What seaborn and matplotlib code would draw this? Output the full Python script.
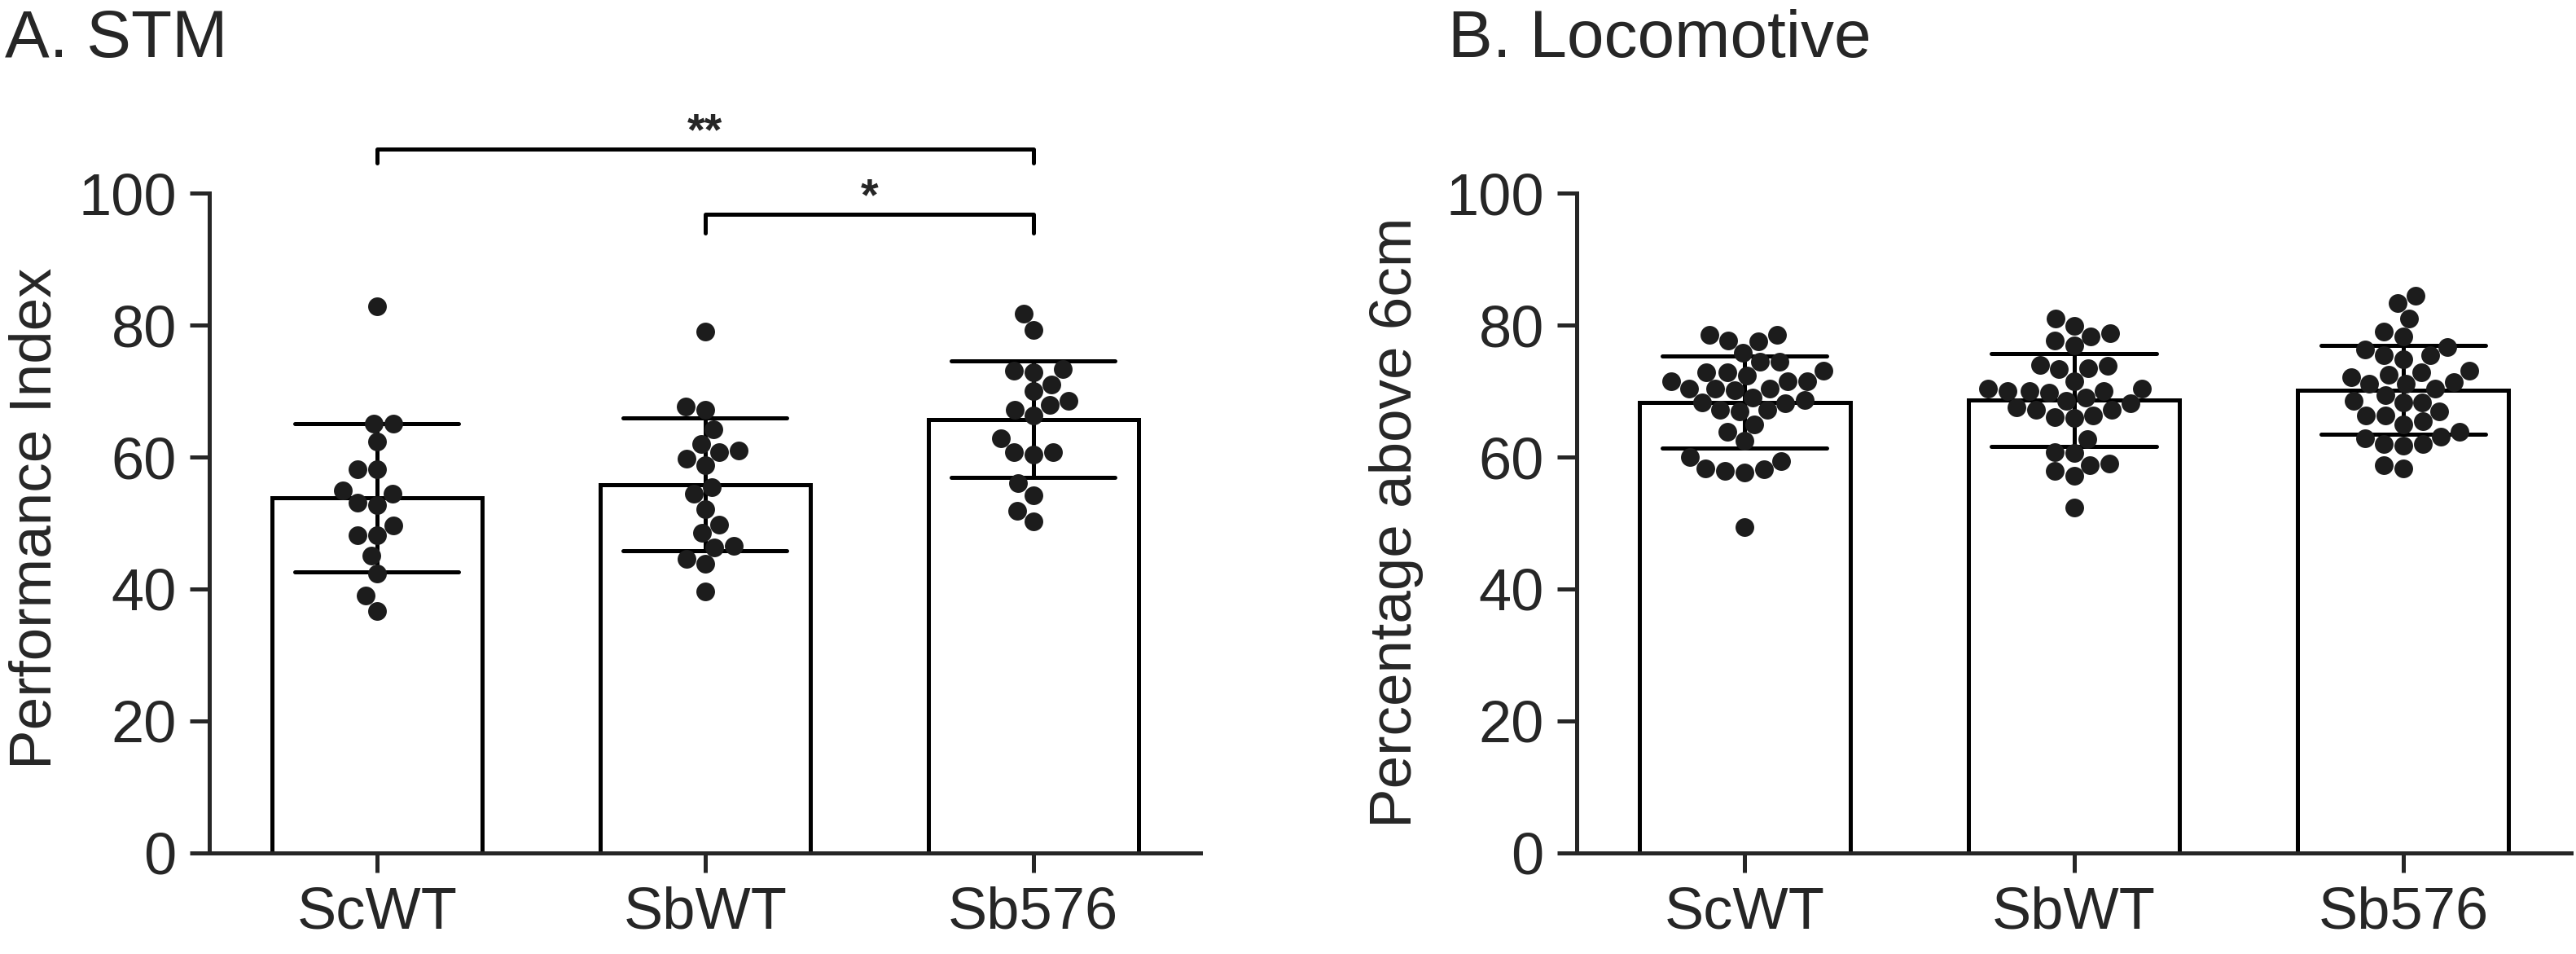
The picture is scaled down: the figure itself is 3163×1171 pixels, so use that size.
import numpy as np
import pandas as pd
import seaborn as sns
import matplotlib.pyplot as plt

sns.set_style('ticks')
plt.rcParams['font.family'] = ['Liberation Sans', 'DejaVu Sans']

groups = ['ScWT', 'SbWT', 'Sb576']

# A. STM - performance index per fly group
scwt_stm = [82.8, 65.1, 65.1, 62.3, 58.1, 58.1, 55.0, 54.4, 53.1, 52.7, 49.6,
            48.1, 48.1, 45.0, 42.3, 39.0, 36.7]
sbwt_stm = [79.0, 67.7, 67.1, 64.2, 62.0, 61.0, 60.8, 59.8, 58.8, 55.4, 54.4,
            52.1, 49.8, 48.5, 46.5, 46.3, 44.6, 43.8, 39.6]
sb576_stm = [81.7, 79.2, 73.3, 73.1, 72.9, 71.0, 70.0, 68.5, 67.9, 67.1, 66.3,
             62.9, 60.8, 60.8, 60.4, 56.0, 54.2, 51.9, 50.2]

# B. Locomotive - percentage above 6cm
scwt_loc = [71.5, 78.5, 74.4, 72.9, 71.5, 70.1, 68.7, 59.4, 77.7, 73.1, 70.4,
            67.1, 63.8, 57.9, 75.8, 72.3, 66.9, 65.0, 62.5, 58.3, 49.4, 77.5,
            74.4, 71.5, 69.0, 67.1, 60.0, 57.7, 78.5, 72.9, 70.4, 68.1, 58.1,
            70.4, 68.3]
sbwt_loc = [70.0, 70.0, 67.1, 79.9, 77.7, 73.4, 70.4, 66.1, 60.6, 78.8, 73.8,
            70.4, 69.0, 66.3, 62.7, 60.8, 57.9, 52.3, 81.0, 76.9, 73.3, 69.8,
            67.5, 59.0, 57.1, 78.3, 74.0, 71.5, 68.1, 65.9, 58.8, 70.0, 67.2,
            68.5]
sb576_loc = [71.1, 66.9, 63.1, 76.7, 74.8, 72.9, 71.1, 69.4, 65.0, 62.0, 83.3,
             81.0, 78.3, 76.3, 72.5, 68.5, 65.4, 62.9, 58.3, 84.4, 79.0, 75.4,
             73.1, 70.4, 68.3, 66.3, 61.7, 58.8, 75.4, 72.1, 66.3, 62.0, 71.3,
             68.3, 63.8]

def make_df(a, b, c):
    return pd.DataFrame({
        'group': ['ScWT'] * len(a) + ['SbWT'] * len(b) + ['Sb576'] * len(c),
        'value': a + b + c,
    })

stm = make_df(scwt_stm, sbwt_stm, sb576_stm)
loc = make_df(scwt_loc, sbwt_loc, sb576_loc)

fig = plt.figure(figsize=(31.63, 11.71), dpi=100)
ax1 = fig.add_axes([0.0813, 0.1059, 0.3848, 0.6917])
ax2 = fig.add_axes([0.6121, 0.1059, 0.386, 0.6917])

lw = 3.6
dot = '#1c1c1c'

for ax, df in [(ax1, stm), (ax2, loc)]:
    sns.barplot(data=df, x='group', y='value', order=groups, errorbar='sd',
                color='white', edgecolor='black', linewidth=lw, width=0.64,
                capsize=0.5, err_kws={'color': 'black', 'linewidth': lw}, ax=ax)
    sns.swarmplot(data=df, x='group', y='value', order=groups, color=dot,
                  size=16.5, ax=ax)
    ax.set_xlim(-0.51, 2.51)
    ax.set_ylim(0, 100)
    ax.set_yticks([0, 20, 40, 60, 80, 100])
    ax.set_xlabel('')
    ax.set_ylabel('')
    sns.despine(ax=ax)
    for s in ['left', 'bottom']:
        ax.spines[s].set_linewidth(lw)
    ax.tick_params(labelsize=52, length=17, width=lw, pad=12)

# significance brackets
ax1.plot([0, 0, 2, 2], [104.6, 106.7, 106.7, 104.6], color='black', lw=lw,
         clip_on=False, solid_joinstyle='round')
ax1.plot([1, 1, 2, 2], [94.0, 96.8, 96.8, 94.0], color='black', lw=lw,
         clip_on=False, solid_joinstyle='round')
ax1.text(1, 105.9, '**', ha='center', va='bottom', fontsize=40,
         fontweight='bold', clip_on=False)
ax1.text(1.5, 96.0, '*', ha='center', va='bottom', fontsize=40,
         fontweight='bold', clip_on=False)

fig.text(0.002, 1 - 70 / 1171, 'A. STM', fontsize=59, va='baseline')
fig.text(0.562, 1 - 70 / 1171, 'B. Locomotive', fontsize=59, va='baseline')
fig.text(0.0139, 0.457, 'Performance Index', rotation=90, fontsize=52.5,
         ha='center', va='center')
fig.text(0.542, 0.452, 'Percentage above 6cm', rotation=90, fontsize=52.5,
         ha='center', va='center')

fig.savefig('out.png', dpi=100)
